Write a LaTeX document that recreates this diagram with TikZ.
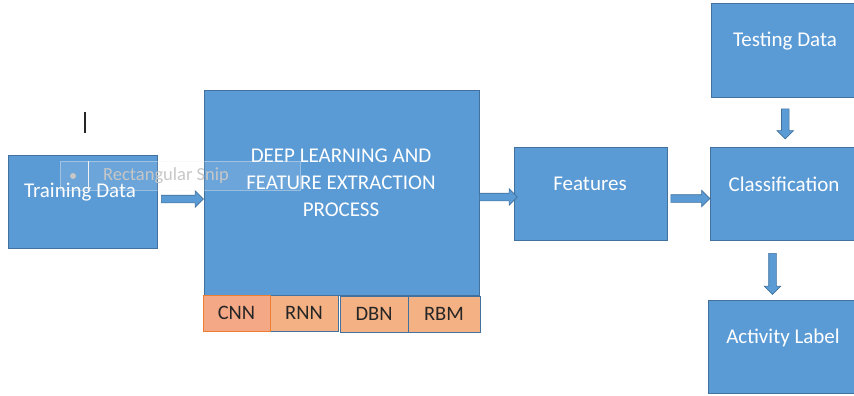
\documentclass[tikz,border=0pt]{standalone}
\usepackage{fontspec}
\setmainfont{Carlito}
\usepackage{tikz}
\usetikzlibrary{shapes.arrows,calc}

\definecolor{boxblue}{HTML}{5B9BD5}
\definecolor{edgeblue}{HTML}{41719C}
\definecolor{boxorange}{HTML}{F4B183}
\definecolor{cnnorange}{HTML}{F5A886}
\definecolor{lineorange}{HTML}{ED7D31}

\tikzset{
  bluebox/.style={draw=edgeblue, fill=boxblue, line width=0.8pt, inner sep=0pt},
  algobox/.style={draw=edgeblue, fill=boxorange, line width=0.8pt, inner sep=0pt,
    minimum height=36pt, font=\fontsize{20.5}{24}\selectfont, text=black!85},
  boxtext/.style={text=white, font=\fontsize{21}{27}\selectfont, align=center},
  blockarrow/.style={single arrow, draw=edgeblue, fill=boxblue, line width=0.6pt,
    inner sep=3.5pt, single arrow head extend=4.5pt, single arrow tip angle=90}
}

\begin{document}
\begin{tikzpicture}[x=1pt,y=-1pt]
         \useasboundingbox (0,0) rectangle (854,396);

         \node[bluebox, minimum width=149pt, minimum height=93pt] (train) at (82.5,201.5) {};
         \node[bluebox, minimum width=275pt, minimum height=205pt] (deep) at (341.5,192.5) {};
         \node[bluebox, minimum width=153pt, minimum height=93pt] (feat) at (590.5,193.5) {};
         \node[bluebox, minimum width=146pt, minimum height=93pt] (clas) at (783,193.5) {};
         \node[bluebox, minimum width=145pt, minimum height=94pt] (test) at (783.5,50) {};
         \node[bluebox, minimum width=148pt, minimum height=93pt] (act) at (782,346.5) {};

         \node[algobox, minimum width=68pt] (rnn) at (304,313) {RNN};
         \node[algobox, minimum width=68pt] (dbn) at (374,314) {DBN};
         \node[algobox, minimum width=72pt] (rbm) at (444,314) {RBM};
         \node[algobox, minimum width=67pt, draw=lineorange, fill=cnnorange] (cnn) at (236.5,313) {CNN};

         \node[boxtext] (trainlbl) at (80,192) {Training Data};
         \node[boxtext] (deeplbl) at (341,182.5) {DEEP LEARNING AND\\FEATURE EXTRACTION\\PROCESS};
         \node[boxtext] (featlbl) at (590,184) {Features};
         \node[boxtext] (claslbl) at (784,184) {Classification};
         \node[boxtext] (testlbl) at (785,41) {Testing Data};
         \node[boxtext] (actlbl) at (783,338) {Activity Label};

         \node[blockarrow, minimum height=42pt] (a1) at ($(train.east)!0.5!(deep.west)+(0,2)$) {};
         \node[blockarrow, minimum height=38pt] (a2) at ($(deep.east)!0.5!(feat.west)+(0,4)$) {};
         \node[blockarrow, minimum height=39pt] (a3) at ($(feat.east)!0.5!(clas.west)+(0,5)$) {};
         \node[blockarrow, minimum height=30pt, shape border rotate=270] (a4) at ($(test.south)!0.5!(clas.north)+(2,0)$) {};
         \node[blockarrow, minimum height=41pt, shape border rotate=270] (a5) at ($(clas.south)!0.5!(act.north)+(-10,2)$) {};

         \draw[line width=1.4pt, black!85] (85,112) -- (85,133);

         \node[draw=black!5, fill=white, fill opacity=0.1, draw opacity=0.4,
           minimum width=240pt, minimum height=29pt, inner sep=0pt] (snip) at (180,175.5) {};
         \fill[black!22] (73,176) circle (3pt);
         \draw[black!5] (88,161) -- (88,190);
         \node[anchor=west, text=black!22, font=\fontsize{18.5}{20}\selectfont, inner sep=0pt] (sniplbl) at (103,176) {Rectangular Snip};
      \end{tikzpicture}
\end{document}
